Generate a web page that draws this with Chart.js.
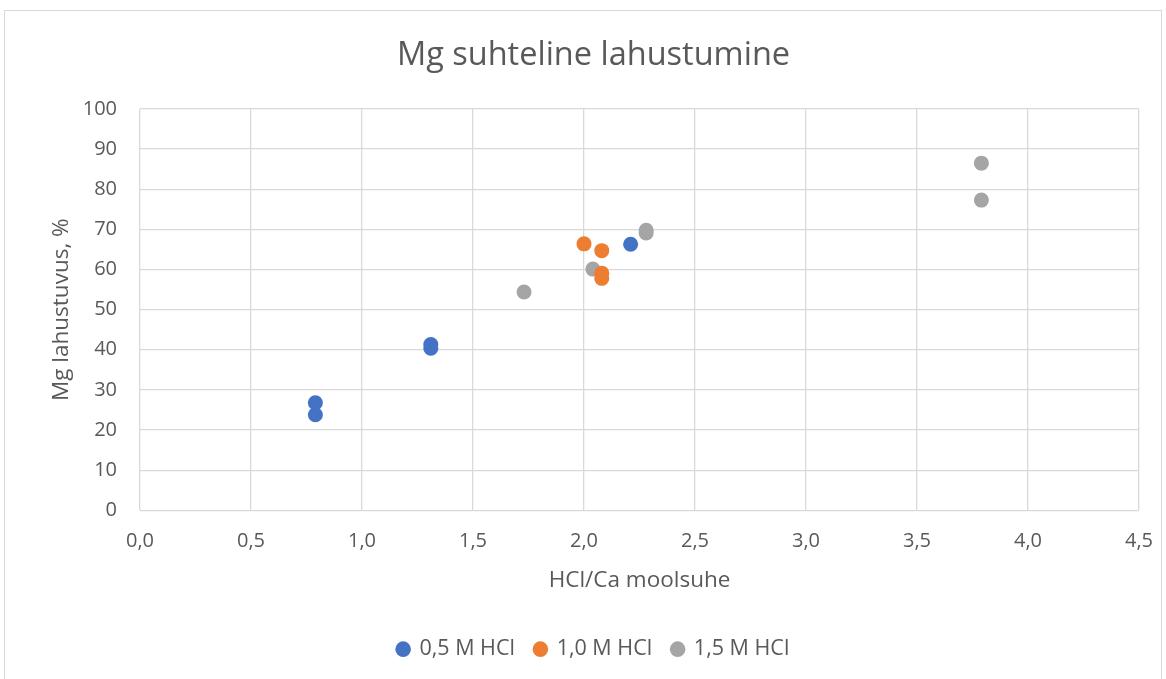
<!DOCTYPE html>
<html><head><meta charset="utf-8">
<script src="https://cdn.jsdelivr.net/npm/chart.js@4/dist/chart.umd.min.js"></script>
<style>
html,body{margin:0;padding:0;background:#fff;}
#wrap{position:relative;width:1166px;height:679px;}
#frame{position:absolute;left:4px;top:10px;width:1158px;height:680px;border:1px solid #d9d9d9;box-sizing:border-box;pointer-events:none;}
</style></head>
<body>
<div id="wrap"><canvas id="c" width="1166" height="679"></canvas><div id="frame"></div></div>
<script>
const chartTitle = "Mg suhteline lahustumine";
const xTitle = "HCl/Ca moolsuhe";
const yTitle = "Mg lahustuvus, %";
const seriesNames = ["0,5 M HCl", "1,0 M HCl", "1,5 M HCl"];
const seriesColors = ["#4472C4", "#ED7D31", "#A5A5A5"];
const x05 = [0.79, 0.79, 1.31, 1.31, 2.21];
const y05 = [26.8, 23.8, 41.3, 40.4, 66.3];
const x10 = [2.00, 2.08, 2.08, 2.08];
const y10 = [66.4, 64.7, 59.1, 57.8];
const x15 = [1.73, 2.04, 2.28, 2.28, 3.79, 3.79];
const y15 = [54.4, 60.1, 69.8, 69.1, 86.5, 77.3];

const xs = [x05, x10, x15], ys = [y05, y10, y15];
const FONT = "'Open Sans', sans-serif";
const GREY = "#595959";

const datasets = seriesNames.map((n, i) => ({
  label: n,
  data: xs[i].map((v, k) => ({x: v, y: ys[i][k]})),
  backgroundColor: seriesColors[i],
  borderColor: seriesColors[i],
  pointRadius: 7.5,
  pointHoverRadius: 7.5,
  borderWidth: 0,
  pointStyle: 'circle'
}));

new Chart(document.getElementById('c'), {
  type: 'scatter',
  data: {datasets},
  options: {
    responsive: false,
    animation: false,
    layout: {padding: {left: 48, right: 27, top: 0, bottom: 9.1}},
    plugins: {
      title: {display: true, text: chartTitle, color: GREY,
        font: {family: FONT, size: 32.5, weight: 'normal', lineHeight: 1.2}, padding: {top: 36.5, bottom: 33.5}},
      legend: {position: 'bottom', labels: {usePointStyle: true, pointStyle: 'circle', boxWidth: 11, boxHeight: 11,
        color: GREY, font: {family: FONT, size: 21.5, lineHeight: 1.2}, padding: 20}},
      tooltip: {enabled: false}
    },
    scales: {
      x: {type: 'linear', min: 0, max: 4.5,
        ticks: {stepSize: 0.5, color: GREY, font: {family: FONT, size: 20, lineHeight: 1.2}, padding: 19,
          callback: v => v.toFixed(1).replace('.', ',')},
        grid: {color: '#d9d9d9', drawTicks: false, lineWidth: 1.3},
        border: {display: false},
        title: {display: true, text: xTitle, color: GREY, font: {family: FONT, size: 22.5, lineHeight: 1.2}, padding: {top: 0, bottom: 24.6}},
        afterFit: s => { s.height = 108.1; s.paddingLeft = 0; s.paddingRight = 0; }
      },
      y: {min: 0, max: 100,
        ticks: {stepSize: 10, color: GREY, font: {family: FONT, size: 20, lineHeight: 1.2}, padding: 23},
        grid: {color: '#d9d9d9', drawTicks: false, lineWidth: 1.3},
        border: {display: false},
        title: {display: true, text: yTitle, color: GREY, font: {family: FONT, size: 22.5, lineHeight: 1.2}, padding: {top: 0, bottom: 0}},
        afterFit: s => { s.width = 92; }
      }
    }
  }
});
</script>
</body></html>
